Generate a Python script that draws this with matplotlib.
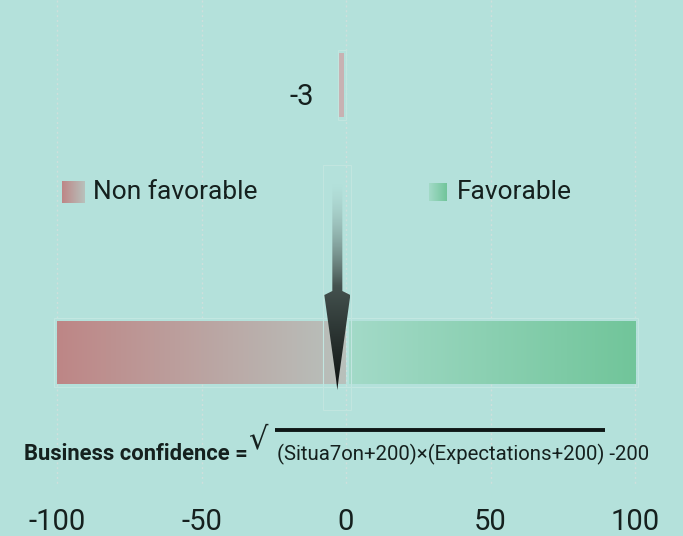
import numpy as np
import matplotlib
matplotlib.use("Agg")
import matplotlib.pyplot as plt
from matplotlib.patches import Polygon, Rectangle
from matplotlib.colors import LinearSegmentedColormap, to_rgb

# ---- data ----
value = -3
scale_min, scale_max = -100, 100
tick_values = [-100, -50, 0, 50, 100]
tick_labels = ["-100", "-50", "0", "50", "100"]
legend_labels = ["Non favorable", "Favorable"]
formula_left = "Business confidence ="
formula_right = "(Situa7on+200)×(Expectations+200) -200"

BG = "#b4e1db"
TXT = "#15201e"
red_cmap = LinearSegmentedColormap.from_list("r", ["#be8686", "#b8c1bc"])
green_cmap = LinearSegmentedColormap.from_list("g", ["#a3dac8", "#71c59a"])

fig = plt.figure(figsize=(6.83, 5.36), dpi=100, facecolor=BG)
ax = fig.add_axes([0, 0, 1, 1])
ax.set_facecolor(BG)
px = 2.89  # pixels per unit
x0 = scale_min - 57 / px
x1 = scale_max + (683 - 635) / px
ax.set_xlim(x0, x1)
ax.set_ylim(536, 0)
ax.axis("off")

# grid
for t in tick_values:
    ax.plot([t, t], [0, 486], color="#cfe0dc", lw=1, ls=(0, (1.5, 2)), zorder=1)

# gradient bars
grad = np.linspace(0, 1, 256).reshape(1, -1)
ax.imshow(grad, cmap=red_cmap, extent=(scale_min, 0, 384, 321), aspect="auto", zorder=2)
ax.imshow(grad, cmap=green_cmap, extent=(1, scale_max, 384, 321), aspect="auto", zorder=2)
ax.add_patch(Rectangle((scale_min - 1, 318), 202, 69, fill=False, ec="#c3e7e1", lw=0.8, zorder=2))

# value bar
ax.bar([value / 2], [64], width=abs(value) * 0.5, bottom=53, color="#c8b1b2", zorder=3)
ax.add_patch(Rectangle((value * 0.75 - 0.6, 50), abs(value) * 0.5 + 1.2, 70, fill=False, ec="#c2e5df", lw=0.8, zorder=3))
ax.text(value - 8, 97, str(value), ha="right", va="center", fontsize=21, color=TXT, family="Roboto", zorder=4)

# arrow with gradient
cx = value
sh = 5 / px
hh = 13 / px
y_top, y_head, y_tip = 182, 291, 390
arrow = [(cx - sh, y_top), (cx + sh, y_top), (cx + sh, y_head), (cx + hh, y_head + 4),
         (cx + 0.5, y_tip - 12), (cx, y_tip), (cx - 0.5, y_tip - 12), (cx - hh, y_head + 4),
         (cx - sh, y_head)]
poly = Polygon(arrow, closed=True, fc="none", ec="none")
ax.add_patch(poly)
n = 256
t = np.linspace(0, 1, n)
img = np.zeros((n, 1, 4))
c_top = np.array(to_rgb("#7a918c"))
c_bot = np.array(to_rgb("#0e1211"))
for i, tt in enumerate(t):
    img[i, 0, :3] = c_top * (1 - tt) + c_bot * tt
    img[i, 0, 3] = min(1.0, (tt / 0.5) ** 1.3)
im = ax.imshow(img, extent=(cx - hh, cx + hh, y_tip, y_top), aspect="auto", zorder=5, interpolation="bilinear")
im.set_clip_path(poly)
ax.add_patch(Rectangle((cx - 14 / px, 165), 28 / px, 245, fill=False, ec="#c2e5df", lw=0.8, zorder=4))

# legend
ax.imshow(grad, cmap=red_cmap, extent=(-100 + 5 / px, -100 + 28 / px, 203, 181), aspect="auto", zorder=3)
ax.text(-100 + 36 / px, 192, legend_labels[0], ha="left", va="center", fontsize=19, color=TXT, family="Roboto")
ax.imshow(grad, cmap=green_cmap, extent=((428 - 345) / px, (446 - 345) / px, 201, 183), aspect="auto", zorder=3)
ax.text((456 - 345) / px, 192, legend_labels[1], ha="left", va="center", fontsize=19, color=TXT, family="Roboto")

# formula
ax.text(x0 + 24 / px, 454, formula_left, ha="left", va="center", fontsize=15.8, fontweight="bold",
        color=TXT, family="Roboto")
ax.text(x0 + 248 / px, 440, "\u221a", ha="left", va="center", fontsize=22, color=TXT, family="DejaVu Sans")
ax.plot([x0 + 275 / px, x0 + 605 / px], [430, 430], color="#0f1716", lw=2.8, solid_capstyle="butt")
ax.text(x0 + 277 / px, 454, formula_right, ha="left", va="center", fontsize=14.7, color=TXT, family="Roboto")

# tick labels
for tv, tl in zip(tick_values, tick_labels):
    ax.text(tv, 522, tl, ha="center", va="center", fontsize=21, color=TXT, family="Roboto")

fig.savefig("out.png", dpi=100, facecolor=BG)
